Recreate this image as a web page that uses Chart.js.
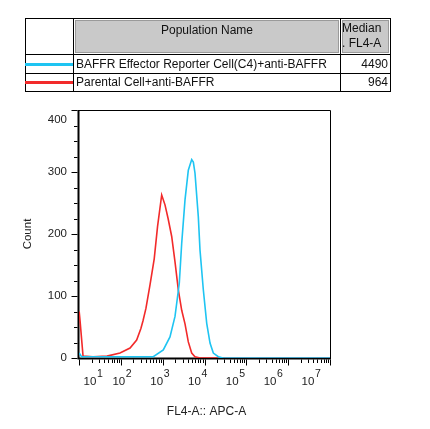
<!DOCTYPE html>
<html>
<head>
<meta charset="utf-8">
<script src="https://cdn.jsdelivr.net/npm/chart.js@4.4.1/dist/chart.umd.min.js"></script>
<style>
  body { margin: 0; background: #fff; font-family: "Liberation Sans", Arial, sans-serif; }
  #wrap { position: relative; width: 430px; height: 429px; overflow: hidden; }
  #histo { position: absolute; left: 0; top: 0; }
  .t { position: absolute; font-size: 12px; color: #111; white-space: nowrap; line-height: 14px; }
  .ln { position: absolute; background: #000; }
  .hdr { position: absolute; background: #c9c9c9; border: 1px solid #9a9a9a; box-sizing: border-box; }
  .sw { position: absolute; height: 3px; }
</style>
</head>
<body>
<div id="wrap">
  <canvas id="histo" width="430" height="429"></canvas>
  <div id="legend"></div>
</div>
<script>
// populations shown in the table above the plot
const popNames = ["BAFFR Effector Reporter Cell(C4)+anti-BAFFR", "Parental Cell+anti-BAFFR"];
const popMedians = ["4490", "964"];
const popColors = ["#1ec4f2", "#f22a2a"];

// histogram traces (FL4-A intensity, event count)
const blueFL4 = [10.1, 11.5, 100, 300, 597, 1035, 1496, 1972, 2500, 2852, 3420, 4103, 4943, 5408, 5929, 7112, 7810, 9370, 11300, 13550, 16250, 21380, 27600, 10000000];
const blueCount = [8, 2, 2, 2, 2, 13, 34, 67, 121, 185, 255, 303, 320, 316, 298, 228, 174, 110, 56, 24, 8, 2, 0, 0];
const redFL4 = [10.1, 10.6, 12.5, 21.6, 46.7, 95.5, 166, 239, 303, 339, 398, 498, 628, 754, 948, 1137, 1348, 1644, 1972, 2366, 2852, 3420, 4103, 4943, 5929, 7810, 10000000];
const redCount = [75, 60, 3, 2, 3, 8, 16, 29, 48, 60, 80, 118, 160, 212, 263, 247, 225, 196, 155, 110, 77, 55, 26, 8, 2, 0, 0];

// axes
const xMin = 10, xMax = 10000000;
const xDecades = [1, 2, 3, 4, 5, 6, 7];
const yTicks = [0, 100, 200, 300, 400];
const yMinorStep = 25;
const xTitle = "FL4-A:: APC-A";
const yTitle = "Count";

// legend / table
function buildTable() {
  const box = document.getElementById("legend");
  let html = "";
  // outer frame and rules
  html += '<div class="ln" style="left:25px;top:18px;width:366px;height:1px"></div>';
  html += '<div class="ln" style="left:25px;top:91px;width:366px;height:1px"></div>';
  html += '<div class="ln" style="left:25px;top:18px;width:1px;height:74px"></div>';
  html += '<div class="ln" style="left:390px;top:18px;width:1px;height:74px"></div>';
  html += '<div class="ln" style="left:73px;top:18px;width:1px;height:74px"></div>';
  html += '<div class="ln" style="left:340px;top:18px;width:1px;height:74px"></div>';
  html += '<div class="ln" style="left:25px;top:54px;width:366px;height:1px"></div>';
  html += '<div class="ln" style="left:25px;top:73px;width:366px;height:1px"></div>';
  // header cells
  html += '<div class="hdr" style="left:75px;top:20px;width:264px;height:33px"></div>';
  html += '<div class="hdr" style="left:342px;top:20px;width:47px;height:33px"></div>';
  html += '<div class="t" style="left:75px;width:264px;text-align:center;top:23px">Population Name</div>';
  html += '<div class="t" style="left:342px;top:21px">Median</div>';
  html += '<div class="t" style="left:342px;top:36px">. FL4-A</div>';
  for (let i = 0; i < popNames.length; i++) {
    let top = 57 + i * 18;
    html += `<div class="sw" style="left:25px;width:48px;top:${top + 6}px;background:${popColors[i]}"></div>`;
    html += `<div class="t" style="left:76px;top:${top}px">${popNames[i]}</div>`;
    html += `<div class="t" style="left:342px;width:46px;text-align:right;top:${top}px">${popMedians[i]}</div>`;
  }
  box.innerHTML = html;
}
buildTable();

// frame, ticks and labels in the Accuri style
const accuriAxes = {
  id: "accuriAxes",
  beforeDatasetsDraw(chart) {
    const ctx = chart.ctx;
    const a = chart.chartArea;
    const x = chart.scales.x, y = chart.scales.y;
    ctx.save();
    ctx.strokeStyle = "#000";
    ctx.lineWidth = 1;
    ctx.beginPath();
    ctx.moveTo(a.left, a.top + 0.5);
    ctx.lineTo(a.right + 0.5, a.top + 0.5);
    ctx.lineTo(a.right + 0.5, a.bottom);
    ctx.stroke();
    ctx.lineWidth = 2;
    ctx.beginPath();
    ctx.moveTo(a.left - 0.5, a.top);
    ctx.lineTo(a.left - 0.5, a.bottom + 0.5);
    ctx.lineTo(a.right + 1, a.bottom + 0.5);
    ctx.stroke();

    // y ticks
    ctx.lineWidth = 1;
    for (let v = y.min; v <= y.max; v += yMinorStep) {
      let py = Math.round(y.getPixelForValue(v)) + 0.5;
      let len = v % 100 === 0 ? 6 : 3.5;
      ctx.beginPath();
      ctx.moveTo(a.left - 1.5, py);
      ctx.lineTo(a.left - 1.5 - len, py);
      ctx.stroke();
    }
    // x ticks
    xDecades.forEach(function (n) {
      for (let k = 1; k <= 9; k++) {
        let v = k * Math.pow(10, n);
        if (v > xMax) break;
        let px = Math.round(x.getPixelForValue(v)) + 0.5;
        let len = k === 1 ? 6 : 3.5;
        ctx.beginPath();
        ctx.moveTo(px, a.bottom + 1.5);
        ctx.lineTo(px, a.bottom + 1.5 + len);
        ctx.stroke();
      }
    });

    ctx.fillStyle = "#222";
    ctx.font = '11.5px "Liberation Sans", Arial, sans-serif';
    ctx.textAlign = "right";
    ctx.textBaseline = "middle";
    yTicks.forEach(function (v) {
      let py = Math.max(y.getPixelForValue(v), a.top + 10);
      ctx.fillText(String(v), a.left - 12, py);
    });

    // decade labels, squeezed the way the cytometer software lays them out
    xDecades.forEach(function (n) {
      let rel = x.getPixelForValue(Math.pow(10, n)) - a.left;
      let cx = Math.max(a.left + rel * 0.904 + 2, a.left + 11);
      ctx.textAlign = "center";
      ctx.textBaseline = "alphabetic";
      ctx.font = '11.5px "Liberation Sans", Arial, sans-serif';
      ctx.fillText("10", cx, a.bottom + 27);
      ctx.textAlign = "left";
      ctx.font = '10.5px "Liberation Sans", Arial, sans-serif';
      ctx.fillText(String(n), cx + 7, a.bottom + 19);
    });

    ctx.font = '12px "Liberation Sans", Arial, sans-serif';
    ctx.textAlign = "center";
    ctx.textBaseline = "middle";
    ctx.fillText(xTitle, (a.left + a.right) / 2 + 2, 412);
    ctx.font = '11.5px "Liberation Sans", Arial, sans-serif';
    ctx.translate(28, (a.top + a.bottom) / 2);
    ctx.rotate(-Math.PI / 2);
    ctx.fillText(yTitle, 0, 0);
    ctx.restore();
  }
};

function toPoints(xs, ys) {
  return xs.map(function (v, i) { return { x: v, y: ys[i] }; });
}

new Chart(document.getElementById("histo").getContext("2d"), {
  type: "line",
  data: {
    datasets: [
      {
        label: popNames[0],
        data: toPoints(blueFL4, blueCount),
        borderColor: popColors[0],
        borderWidth: 1.6,
        pointRadius: 0,
        tension: 0
      },
      {
        label: popNames[1],
        data: toPoints(redFL4, redCount),
        borderColor: popColors[1],
        borderWidth: 1.6,
        pointRadius: 0,
        tension: 0
      }
    ]
  },
  options: {
    responsive: false,
    animation: false,
    layout: { padding: { left: 79, top: 110, right: 100, bottom: 71 } },
    plugins: { legend: { display: false }, tooltip: { enabled: false } },
    scales: {
      x: { type: "logarithmic", min: xMin, max: xMax, display: false },
      y: { type: "linear", min: 0, max: 400, display: false }
    }
  },
  plugins: [accuriAxes]
});
</script>
</body>
</html>
